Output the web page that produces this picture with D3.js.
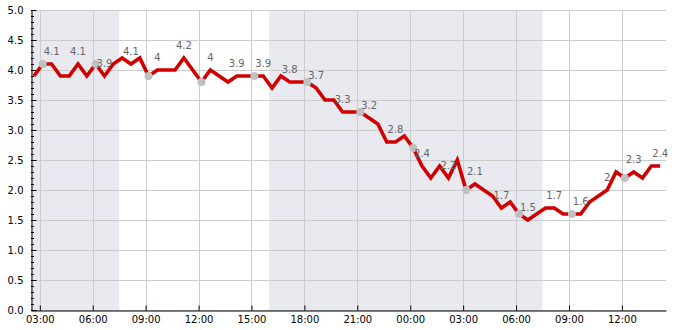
<!DOCTYPE html>
<html>
<head>
<meta charset="utf-8">
<script src="https://cdn.jsdelivr.net/npm/d3@7"></script>
<style>
  body { margin: 0; background: #fff; }
  svg { display: block; font-family: "DejaVu Sans", sans-serif; }
</style>
</head>
<body>
<div id="chart"></div>
<script>
// half-hourly readings, first one at 02:40
const startTime = "2024-01-01T02:40"
const stepMinutes = 30
const values = [
  3.9, 4.1, 4.1, 3.9, 3.9, 4.1, 3.9, 4.1, 3.9, 4.1, 4.2, 4.1,
  4.2, 3.9, 4.0, 4.0, 4.0, 4.2, 4.0, 3.8, 4.0, 3.9, 3.8, 3.9,
  3.9, 3.9, 3.9, 3.7, 3.9, 3.8, 3.8, 3.8, 3.7, 3.5, 3.5, 3.3,
  3.3, 3.3, 3.2, 3.1, 2.8, 2.8, 2.9, 2.7, 2.4, 2.2, 2.4, 2.2,
  2.5, 2.0, 2.1, 2.0, 1.9, 1.7, 1.8, 1.6, 1.5, 1.6, 1.7, 1.7,
  1.6, 1.6, 1.6, 1.8, 1.9, 2.0, 2.3, 2.2, 2.3, 2.2, 2.4, 2.4
]
// which readings get a number above them / a grey dot
const labelStart = 2, labelEvery = 3
const markerStart = 1, markerEvery = 6

const xDomain = ["2024-01-01T02:30", "2024-01-02T14:30"]
const nights = [
  ["2024-01-01T02:30", "2024-01-01T07:30"],
  ["2024-01-01T16:00", "2024-01-02T07:30"]
]
const yTicks = [0, 0.5, 1, 1.5, 2, 2.5, 3, 3.5, 4, 4.5, 5]

const width = 685, height = 330
const margin = {top: 10, right: 19, bottom: 20, left: 31}

const t0 = new Date(startTime)
const data = values.map((v, i) => ({
  i,
  time: d3.timeMinute.offset(t0, i * stepMinutes),
  value: v
}))

const x = d3.scaleTime()
  .domain(xDomain.map(d => new Date(d)))
  .range([margin.left, width - margin.right])

const y = d3.scaleLinear()
  .domain([0, 5])
  .range([height - margin.bottom, margin.top])

const svg = d3.select("#chart").append("svg")
  .attr("width", width)
  .attr("height", height)

// night bands
svg.append("g")
  .selectAll("rect")
  .data(nights)
  .join("rect")
  .attr("x", d => x(new Date(d[0])))
  .attr("width", d => x(new Date(d[1])) - x(new Date(d[0])))
  .attr("y", margin.top)
  .attr("height", y(0) - y(5))
  .attr("fill", "#e9eaf0")

const xTicks = x.ticks(d3.timeHour.every(3))

// grid
const grid = svg.append("g")
  .attr("stroke", "#cccccc")
  .attr("stroke-width", 1)
  .attr("shape-rendering", "crispEdges")
grid.selectAll("line.h")
  .data(yTicks)
  .join("line")
  .attr("class", "h")
  .attr("x1", margin.left)
  .attr("x2", width - margin.right)
  .attr("y1", d => Math.round(y(d)) + 0.5)
  .attr("y2", d => Math.round(y(d)) + 0.5)
grid.selectAll("line.v")
  .data(xTicks)
  .join("line")
  .attr("class", "v")
  .attr("x1", d => Math.round(x(d)) + 0.5)
  .attr("x2", d => Math.round(x(d)) + 0.5)
  .attr("y1", margin.top)
  .attr("y2", height - margin.bottom)

// minor y ticks
svg.append("g")
  .attr("transform", `translate(${margin.left},0)`)
  .call(d3.axisLeft(y).ticks(50).tickSize(-3).tickFormat(""))
  .call(g => g.select(".domain").remove())
  .call(g => g.selectAll("line").attr("stroke", "#000"))

// y axis
svg.append("g")
  .attr("transform", `translate(${margin.left + 0.5},0)`)
  .call(d3.axisLeft(y).tickValues(yTicks).tickSize(-5).tickPadding(8).tickSizeOuter(0)
    .tickFormat(d3.format(".1f")))
  .call(g => g.selectAll("text").attr("font-size", 10).attr("fill", "#000").attr("font-family", "DejaVu Sans"))

// x axis
svg.append("g")
  .attr("transform", `translate(0,${height - margin.bottom + 0.5})`)
  .call(d3.axisBottom(x).tickValues(xTicks).tickSize(-5).tickPadding(5).tickSizeOuter(0)
    .tickFormat(d3.timeFormat("%H:%M")))
  .call(g => g.selectAll("text").attr("font-size", 10).attr("fill", "#000").attr("font-family", "DejaVu Sans"))

// line
const line = d3.line()
  .x(d => x(d.time))
  .y(d => y(d.value))

svg.append("path")
  .datum(data)
  .attr("fill", "none")
  .attr("stroke", "#d00000")
  .attr("stroke-width", 3.6)
  .attr("d", line)

// grey dots
svg.append("g")
  .selectAll("circle")
  .data(data.filter(d => d.i >= markerStart && (d.i - markerStart) % markerEvery === 0))
  .join("circle")
  .attr("cx", d => x(d.time))
  .attr("cy", d => y(d.value))
  .attr("r", 4)
  .attr("fill", "#c0c0c0")

// value labels
svg.append("g")
  .attr("font-size", 10)
  .attr("fill", "#666")
  .attr("text-anchor", "middle")
  .selectAll("text")
  .data(data.filter(d => d.i >= labelStart && (d.i - labelStart) % labelEvery === 0))
  .join("text")
  .attr("x", d => x(d.time))
  .attr("y", d => y(d.value) - 9)
  .text(d => d3.format("~g")(d.value))
</script>
</body>
</html>
